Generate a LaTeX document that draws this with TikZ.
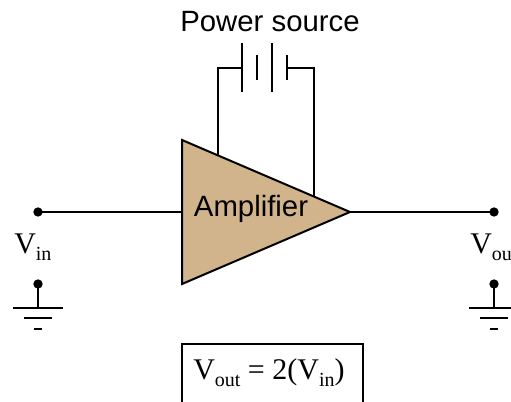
\documentclass[tikz,border=0pt]{standalone}
\usepackage{fontspec}
\setmainfont{Liberation Serif}
\setsansfont{Liberation Sans}
\definecolor{amptan}{HTML}{D2B48C}
\newcommand{\lowtext}[1]{\raisebox{-5pt}{\fontsize{15}{16}\selectfont #1}}
\tikzset{
	wire/.style = {line width=1.5pt},
	terminal/.style = {circle,fill=black,inner sep=0pt,minimum size=7pt},
	voltlabel/.style = {inner sep=0pt,anchor=base west,font=\fontsize{22.5}{24}\selectfont},
	title/.style = {inner sep=0pt,anchor=base,font=\sffamily\fontsize{22}{24}\selectfont},
}
\begin{document}
\begin{tikzpicture}[x=0.75pt,y=-0.75pt]
	\useasboundingbox (0,0) rectangle (511,402);
	\clip (0,0) rectangle (511,402);
		\coordinate (ampNW) at (182,140);
		\coordinate (ampSW) at (182,284);
		\coordinate (ampE) at (350,212);
		\coordinate (ampIn) at (182,212);
		\coordinate (leadL) at (218,160);
		\coordinate (leadR) at (314,200);
	% battery
		\foreach \p/\x/\t/\b in {p/242/43/92,q/257/55/80,r/272/43/92,s/287/55/80}{
			\coordinate (\p top) at (\x,\t);
			\coordinate (\p bot) at (\x,\b);
			\draw[wire] (\p top) -- (\p bot);
		}
		\coordinate (plateL) at (242,68);
		\coordinate (plateR) at (287,68);
		\draw[wire] (plateL) -| (leadL);
		\draw[wire] (plateR) -| (leadR);
	% input and output
		\node[terminal] (vin) at (38,212) {};
		\node[terminal] (vout) at (494,212) {};
		\draw[wire] (vin.center) -- (ampIn);
		\draw[wire] (ampE) -- (vout.center);
		\filldraw[wire,fill=amptan,line join=miter] (ampNW) -- (ampSW) -- (ampE) -- cycle;
		\node[title] (amplabel) at (251,217) {Amplifier};
		\node[title] (powerlabel) at (270,32) {Power source};
		\node[voltlabel] (vinlabel) at (14,254) {V\lowtext{in}};
		\node[voltlabel] (voutlabel) at (470,254) {V\lowtext{out}};
	% grounds
		\node[terminal] (gndin) at (38,284) {};
		\node[terminal] (gndout) at (494,284) {};
		\foreach \g/\x in {in/38,out/494}{
			\coordinate (stem\g) at (\x,308);
			\coordinate (a\g) at (\x-25,308);
			\coordinate (b\g) at (\x+25,308);
			\coordinate (c\g) at (\x-14,318);
			\coordinate (d\g) at (\x+14,318);
			\coordinate (e\g) at (\x-4,329);
			\coordinate (f\g) at (\x+4,329);
			\draw[wire] (gnd\g.center) -- (stem\g);
			\draw[wire] (a\g) -- (b\g);
			\draw[wire] (c\g) -- (d\g);
			\draw[wire] (e\g) -- (f\g);
		}
	% formula
		\coordinate (boxSW) at (182,410);
		\coordinate (boxNE) at (363,344);
		\coordinate (boxSE) at (363,410);
		\draw[wire] (boxSW) |- (boxNE) -- (boxSE);
		\node[voltlabel] (formula) at (193,380) {V\lowtext{out} = 2(V\lowtext{in})};
\end{tikzpicture}
\end{document}
